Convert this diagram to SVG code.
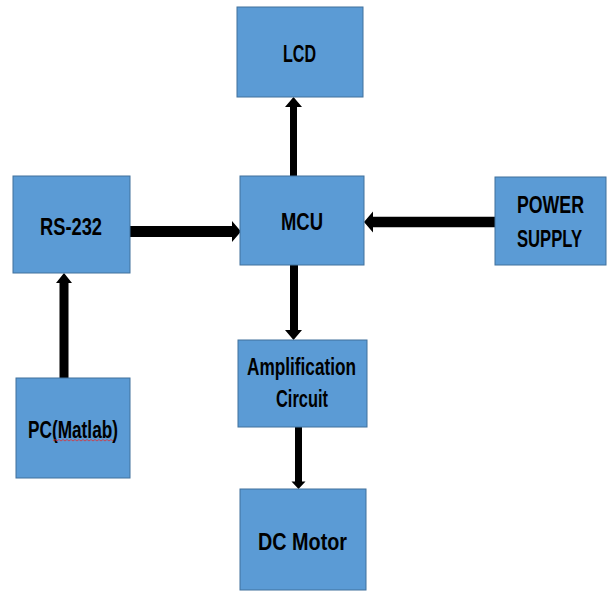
<svg xmlns="http://www.w3.org/2000/svg" width="608" height="592" viewBox="0 0 608 592">
<style>
.box{fill:#5B9BD5;stroke:#41719C;stroke-width:1}
.lbl{font-family:"Liberation Sans Narrow","Liberation Sans",Arial,sans-serif;font-weight:bold;font-size:24px;fill:#000;text-anchor:middle}
.arr{fill:#000}
</style>
<rect width="608" height="592" fill="#fff"/>
<g id="connectors">
<polygon class="arr" points="290,177 290,107 285,107 293.5,97 302,107 297,107 297,177"/>
<polygon class="arr" points="130,226 232,226 232,221 241,231.5 232,242 232,237 130,237"/>
<polygon class="arr" points="495,216.7 373,216.7 373,211.5 364,222 373,232.5 373,227.3 495,227.3"/>
<polygon class="arr" points="59.5,378 59.5,283 56,283 64,273 72,283 68.5,283 68.5,378"/>
<polygon class="arr" points="290,264 290,330 285,330 293.5,340 302,330 298,330 298,264"/>
<polygon class="arr" points="295,427 295,481.5 291.5,481.5 298.5,489 305.5,481.5 302,481.5 302,427"/>
</g>
<g id="lcd">
<rect class="box" x="237" y="7" width="126" height="90"/>
<text class="lbl" x="299.5" y="62" textLength="33" lengthAdjust="spacingAndGlyphs">LCD</text>
</g>
<g id="rs232">
<rect class="box" x="13" y="176" width="117" height="97"/>
<text class="lbl" x="71" y="235" textLength="62" lengthAdjust="spacingAndGlyphs">RS-232</text>
</g>
<g id="mcu">
<rect class="box" x="240" y="176" width="124" height="89"/>
<text class="lbl" x="302" y="230" textLength="42" lengthAdjust="spacingAndGlyphs">MCU</text>
</g>
<g id="power">
<rect class="box" x="495" y="177" width="111" height="88"/>
<text class="lbl" x="550.5" y="213" textLength="67" lengthAdjust="spacingAndGlyphs">POWER</text>
<text class="lbl" x="549.5" y="247" textLength="65" lengthAdjust="spacingAndGlyphs">SUPPLY</text>
</g>
<g id="pc">
<rect class="box" x="16" y="378" width="114" height="100"/>
<text class="lbl" x="73" y="438" textLength="90" lengthAdjust="spacingAndGlyphs">PC(Matlab)</text>
<path d="M53,441 l2,-1.5 l2,1.5 l2,-1.5 l2,1.5 l2,-1.5 l2,1.5 l2,-1.5 l2,1.5 l2,-1.5 l2,1.5 l2,-1.5 l2,1.5 l2,-1.5 l2,1.5 l2,-1.5 l2,1.5 l2,-1.5 l2,1.5 l2,-1.5 l2,1.5 l2,-1.5 l2,1.5 l2,-1.5 l2,1.5 l2,-1.5 l2,1.5 l2,-1.5 l2,1.5 l2,-1.5 l2,1.5" fill="none" stroke="#E03030" stroke-width="0.8"/>
</g>
<g id="amp">
<rect class="box" x="238" y="340" width="129" height="87"/>
<text class="lbl" x="301.5" y="375" textLength="109" lengthAdjust="spacingAndGlyphs">Amplification</text>
<text class="lbl" x="302" y="407" textLength="52" lengthAdjust="spacingAndGlyphs">Circuit</text>
</g>
<g id="dcmotor">
<rect class="box" x="240" y="489" width="126" height="101"/>
<text class="lbl" x="302.5" y="550" textLength="89" lengthAdjust="spacingAndGlyphs">DC Motor</text>
</g>
</svg>
